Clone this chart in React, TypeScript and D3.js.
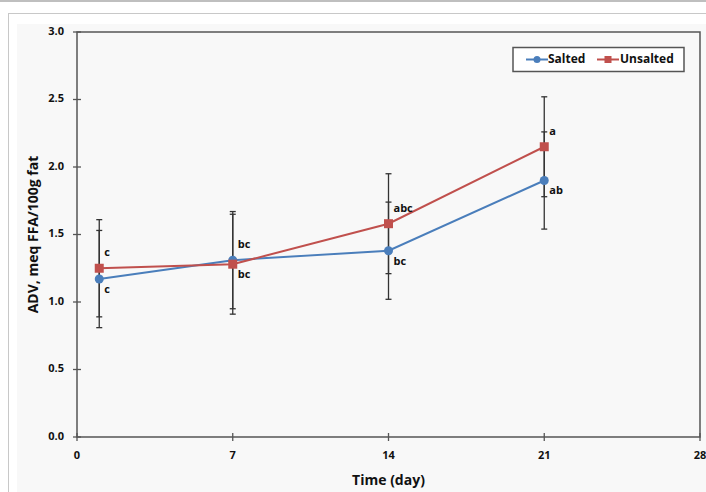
import React from "react";
import * as d3 from "d3";

// ADV over storage time, salted vs unsalted
const days = [1, 7, 14, 21];
const salted = [1.17, 1.31, 1.38, 1.9];
const saltedErr = [0.36, 0.36, 0.36, 0.36];
const unsalted = [1.25, 1.28, 1.58, 2.15];
const unsaltedErr = [0.36, 0.37, 0.37, 0.37];
const saltedLetters = ["c", "bc", "bc", "ab"];
const unsaltedLetters = ["c", "bc", "abc", "a"];
const xTicks = [0, 7, 14, 21, 28];
const yTicks = [0, 0.5, 1, 1.5, 2, 2.5, 3];

const W = 706;
const H = 492;
const margin = { top: 32, right: 6, bottom: 55, left: 77 };
const BLUE = "#4a7ebb";
const RED = "#c0504d";
const FONT = "'Open Sans', 'Liberation Sans', sans-serif";

export default function App() {
  const x = d3.scaleLinear().domain([0, 28]).range([margin.left, W - margin.right]);
  const y = d3.scaleLinear().domain([0, 3]).range([H - margin.bottom, margin.top]);

  const line = d3
    .line<number>()
    .x((d, i) => x(days[i]))
    .y((d) => y(d));

  const x0 = x(0);
  const x1 = x(28);
  const y0 = y(0);
  const y1 = y(3);

  const errBar = (vals: number[], errs: number[], key: string) =>
    vals.map((v, i) => {
      const cx = x(days[i]);
      const top = y(v + errs[i]);
      const bot = y(v - errs[i]);
      return (
        <g key={key + i} stroke="#333" strokeWidth={1.3}>
          <line x1={cx} x2={cx} y1={top} y2={bot} />
          <line x1={cx - 3} x2={cx + 3} y1={top} y2={top} />
          <line x1={cx - 3} x2={cx + 3} y1={bot} y2={bot} />
        </g>
      );
    });

  return (
    <div style={{ position: "absolute", left: 0, top: 0 }}>
      <svg width={W} height={H} style={{ display: "block", fontFamily: FONT }}>
        <rect x={0} y={0} width={W} height={H} fill="#fff" />
        <line x1={0} x2={W} y1={1} y2={1} stroke="#aaa" strokeWidth={1.5} />
        <rect x={8.5} y={13.5} width={W} height={H} fill="#fff" stroke="#c8c8c8" />
        <rect x={17} y={24} width={W} height={H} fill="#f8f8f8" />

        {/* plot frame */}
        <rect x={x0} y={y1} width={x1 - x0} height={y0 - y1} fill="none" stroke="#555" strokeWidth={1.5} />

        {/* y axis */}
        {yTicks.map((t) => (
          <g key={"y" + t}>
            <line x1={x0 - 4} x2={x0 + 4} y1={y(t)} y2={y(t)} stroke="#555" strokeWidth={1.3} />
            <text x={x0 - 13} y={y(t)} textAnchor="end" dominantBaseline="middle" fontSize={11} fontWeight="bold" fill="#111">
              {d3.format(".1f")(t)}
            </text>
          </g>
        ))}
        {/* x axis */}
        {xTicks.map((t) => (
          <g key={"x" + t}>
            <line x1={x(t)} x2={x(t)} y1={y0 - 4} y2={y0 + 4} stroke="#555" strokeWidth={1.3} />
            <text x={x(t)} y={y0 + 19} textAnchor="middle" dominantBaseline="middle" fontSize={11} fontWeight="bold" fill="#111">
              {t}
            </text>
          </g>
        ))}

        <text x={(x0 + x1) / 2} y={H - 11} textAnchor="middle" dominantBaseline="middle" fontSize={14} fontWeight="bold" fill="#111">
          Time (day)
        </text>
        <text
          transform={`translate(34,${(y0 + y1) / 2}) rotate(-90)`}
          textAnchor="middle"
          dominantBaseline="middle"
          fontSize={14}
          fontWeight="bold"
          fill="#111"
        >
          ADV, meq FFA/100g fat
        </text>

        {errBar(unsalted, unsaltedErr, "eu")}
        {errBar(salted, saltedErr, "es")}

        <path d={line(salted) || ""} fill="none" stroke={BLUE} strokeWidth={2} />
        <path d={line(unsalted) || ""} fill="none" stroke={RED} strokeWidth={2} />

        {salted.map((v, i) => (
          <circle key={"s" + i} cx={x(days[i])} cy={y(v)} r={4.5} fill={BLUE} />
        ))}
        {unsalted.map((v, i) => (
          <rect key={"u" + i} x={x(days[i]) - 4.5} y={y(v) - 4.5} width={9} height={9} fill={RED} />
        ))}

        {days.map((d, i) => {
          const ys = y(salted[i]);
          const yu = y(unsalted[i]);
          const upper = Math.min(ys, yu) - 15;
          const lower = Math.max(ys, yu) + 11;
          return (
            <g key={"l" + i} fontSize={11} fontWeight="bold" fill="#111">
              <text x={x(d) + 5} y={upper} dominantBaseline="middle">
                {unsaltedLetters[i]}
              </text>
              <text x={x(d) + 5} y={lower} dominantBaseline="middle">
                {saltedLetters[i]}
              </text>
            </g>
          );
        })}

        {/* legend */}
        <g>
          <rect x={513} y={47.5} width={171} height={24} fill="#fff" stroke="#555" strokeWidth={1.5} />
          <line x1={526} x2={548} y1={59.5} y2={59.5} stroke={BLUE} strokeWidth={2} />
          <circle cx={537} cy={59.5} r={3.5} fill={BLUE} />
          <text x={548} y={60} dominantBaseline="middle" fontSize={12} fontWeight="bold" fill="#111">
            Salted
          </text>
          <line x1={597} x2={619} y1={59.5} y2={59.5} stroke={RED} strokeWidth={2} />
          <rect x={604.5} y={56} width={7} height={7} fill={RED} />
          <text x={620} y={60} dominantBaseline="middle" fontSize={12} fontWeight="bold" fill="#111">
            Unsalted
          </text>
        </g>
      </svg>
    </div>
  );
}
